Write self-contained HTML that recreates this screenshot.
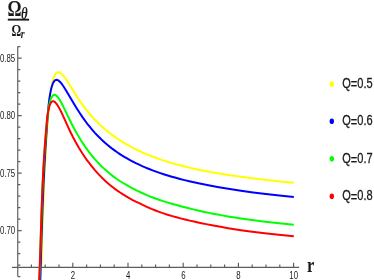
<!DOCTYPE html>
<html><head><meta charset="utf-8"><title>plot</title>
<style>html,body{margin:0;padding:0;background:#fff;}body{width:374px;height:280px;overflow:hidden;font-family:"Liberation Sans",sans-serif;}</style>
</head><body>
<svg width="374" height="280" viewBox="0 0 374 280" style="display:block;will-change:transform">
<rect width="374" height="280" fill="#ffffff"/>
<g fill="none" stroke-width="2" stroke-linejoin="round" stroke-linecap="butt">
<path d="M41.32 268.00 L43.37 205.00 L44.00 188.00 L44.67 172.50 L45.45 157.00 L46.29 142.50 L47.07 131.00 L48.65 109.50 L49.00 105.50 L49.40 101.50 L49.86 97.56 L50.33 93.91 L50.82 90.56 L51.32 87.54 L51.84 84.80 L52.38 82.33 L52.93 80.20 L53.50 78.32 L54.10 76.70 L54.72 75.33 L55.36 74.23 L56.03 73.37 L56.37 73.03 L56.73 72.75 L57.09 72.53 L57.47 72.38 L58.12 72.25 L58.80 72.29 L59.52 72.51 L60.27 72.90 L61.07 73.46 L61.90 74.21 L62.58 74.91 L63.74 76.26 L65.49 78.59 L67.81 82.05 L75.36 94.12 L78.85 99.52 L80.59 102.10 L83.50 106.13 L85.24 108.44 L86.98 110.66 L89.30 113.49 L91.05 115.52 L92.79 117.47 L94.53 119.33 L96.28 121.12 L98.60 123.42 L100.92 125.61 L102.67 127.19 L104.99 129.21 L107.31 131.13 L109.64 132.97 L112.54 135.17 L114.87 136.86 L117.19 138.47 L119.51 140.02 L122.42 141.87 L124.74 143.28 L127.65 144.97 L130.55 146.59 L133.46 148.14 L136.36 149.62 L139.27 151.02 L142.17 152.35 L145.66 153.86 L149.14 155.29 L152.63 156.65 L156.11 157.94 L159.60 159.16 L163.09 160.33 L167.15 161.63 L170.64 162.68 L174.70 163.86 L178.77 164.97 L182.84 166.03 L186.90 167.04 L191.55 168.13 L196.20 169.17 L200.85 170.15 L204.91 170.97 L210.14 171.96 L220.60 173.78 L231.64 175.52 L242.68 177.09 L254.30 178.60 L267.08 180.11 L279.86 181.47 L293.80 182.82" stroke="#ffff00"/>
<path d="M40.30 281.00 L41.19 249.00 L41.90 226.00 L42.65 205.00 L43.44 186.00 L44.29 168.50 L45.26 151.50 L46.13 138.00 L47.89 113.00 L48.51 106.00 L48.85 103.00 L49.30 99.45 L49.75 96.39 L50.20 93.63 L50.68 91.13 L51.17 88.89 L51.67 86.96 L52.19 85.28 L52.73 83.84 L53.28 82.62 L53.87 81.62 L54.48 80.85 L55.11 80.31 L55.44 80.11 L55.78 79.97 L56.41 79.86 L57.08 79.92 L57.79 80.16 L58.53 80.59 L59.31 81.20 L60.13 82.00 L61.02 83.00 L61.96 84.20 L63.74 86.74 L66.07 90.43 L73.04 102.24 L76.52 107.99 L79.43 112.55 L82.33 116.88 L84.08 119.36 L85.82 121.75 L87.56 124.05 L89.89 126.98 L91.63 129.09 L93.37 131.11 L95.11 133.06 L97.44 135.54 L99.18 137.31 L101.50 139.58 L103.25 141.20 L105.57 143.28 L107.90 145.25 L110.22 147.14 L112.54 148.93 L114.87 150.64 L117.19 152.27 L119.51 153.83 L121.84 155.33 L124.74 157.10 L127.07 158.46 L129.97 160.07 L132.88 161.61 L135.78 163.07 L138.69 164.46 L142.17 166.05 L145.66 167.55 L149.14 168.97 L152.63 170.32 L156.11 171.61 L159.60 172.83 L163.67 174.18 L167.73 175.46 L171.80 176.68 L175.87 177.83 L179.93 178.93 L184.58 180.12 L189.23 181.25 L193.88 182.32 L198.52 183.34 L208.40 185.34 L218.86 187.26 L229.90 189.09 L240.93 190.75 L253.13 192.41 L265.91 193.99 L279.28 195.48 L293.80 196.95" stroke="#0000ff"/>
<path d="M39.33 281.00 L40.15 258.50 L41.67 209.50 L42.40 190.00 L42.97 177.50 L43.61 165.50 L44.31 154.50 L45.08 144.00 L46.86 123.00 L47.32 118.00 L47.97 112.50 L48.35 109.91 L48.80 107.27 L49.35 104.48 L49.92 102.04 L50.53 99.97 L51.16 98.25 L51.82 96.89 L52.16 96.34 L52.50 95.87 L52.86 95.50 L53.22 95.20 L53.60 94.98 L53.99 94.86 L54.57 94.82 L55.17 94.96 L55.80 95.28 L56.46 95.77 L57.16 96.45 L57.88 97.30 L58.65 98.35 L59.48 99.60 L61.16 102.50 L63.16 106.33 L71.88 124.23 L74.78 129.71 L77.69 134.88 L79.43 137.83 L81.17 140.66 L82.91 143.36 L84.66 145.95 L86.40 148.44 L88.72 151.62 L90.47 153.89 L92.79 156.76 L94.53 158.81 L96.86 161.42 L98.60 163.28 L100.92 165.66 L102.67 167.37 L104.99 169.53 L107.31 171.57 L109.64 173.51 L111.96 175.35 L114.29 177.10 L116.61 178.76 L119.51 180.73 L121.84 182.22 L124.74 183.99 L127.65 185.67 L130.55 187.28 L134.04 189.11 L137.52 190.85 L142.17 193.03 L146.24 194.86 L149.14 196.09 L152.05 197.23 L155.53 198.52 L159.02 199.75 L163.09 201.10 L167.15 202.39 L171.80 203.77 L176.45 205.08 L181.68 206.47 L186.90 207.79 L193.30 209.35 L199.10 210.72 L204.33 211.90 L208.98 212.89 L213.05 213.71 L217.70 214.59 L223.50 215.64 L229.31 216.64 L235.12 217.58 L240.93 218.47 L251.97 220.02 L265.33 221.69 L279.28 223.28 L293.80 224.78" stroke="#00ff00"/>
<path d="M39.16 281.00 L39.93 261.00 L41.54 211.50 L42.39 189.00 L42.97 176.50 L43.57 165.00 L44.25 154.00 L44.99 143.50 L46.26 127.50 L46.75 122.00 L47.07 119.01 L47.39 116.54 L47.77 114.00 L48.16 111.69 L48.64 109.29 L49.15 107.21 L49.67 105.45 L50.22 104.00 L50.78 102.90 L51.08 102.46 L51.38 102.08 L51.70 101.78 L52.03 101.55 L52.37 101.39 L52.72 101.29 L53.33 101.28 L53.94 101.45 L54.59 101.82 L55.27 102.38 L55.96 103.12 L56.69 104.04 L57.49 105.22 L58.36 106.62 L59.88 109.35 L61.55 112.63 L63.16 116.06 L68.39 127.56 L70.71 132.52 L73.04 137.18 L75.36 141.54 L78.85 147.67 L80.59 150.56 L82.33 153.32 L84.08 155.96 L86.40 159.32 L88.14 161.69 L89.89 163.95 L92.21 166.83 L95.11 170.30 L96.86 172.30 L99.18 174.84 L100.92 176.66 L103.25 178.97 L105.57 181.15 L107.90 183.23 L110.22 185.19 L112.54 187.06 L114.87 188.84 L117.77 190.94 L120.10 192.53 L123.00 194.41 L125.90 196.19 L128.81 197.87 L132.30 199.77 L135.78 201.56 L138.69 202.97 L146.24 206.53 L149.14 207.85 L151.47 208.86 L154.95 210.27 L158.44 211.62 L161.34 212.67 L164.25 213.65 L168.31 214.93 L172.38 216.14 L176.45 217.27 L180.51 218.35 L185.16 219.53 L189.81 220.64 L195.04 221.83 L200.27 222.95 L206.08 224.13 L211.89 225.25 L220.60 226.83 L228.15 228.16 L234.54 229.22 L240.93 230.22 L250.23 231.51 L264.75 233.28 L278.70 234.80 L293.80 236.28" stroke="#ff0000"/>
</g>
<path d="M17.75 46.4 V276.6 M12 267.3 H299.2 M17.75 276.60 h2.6 M17.75 265.10 h2.6 M17.75 253.60 h2.6 M17.75 242.10 h2.6 M17.75 230.60 h3.9 M17.75 219.10 h2.6 M17.75 207.60 h2.6 M17.75 196.10 h2.6 M17.75 184.60 h2.6 M17.75 173.10 h3.9 M17.75 161.60 h2.6 M17.75 150.10 h2.6 M17.75 138.60 h2.6 M17.75 127.10 h2.6 M17.75 115.60 h3.9 M17.75 104.10 h2.6 M17.75 92.60 h2.6 M17.75 81.10 h2.6 M17.75 69.60 h2.6 M17.75 58.10 h3.9 M17.75 46.60 h2.6 M31.40 267.3 v-2.8 M45.20 267.3 v-2.8 M59.00 267.3 v-2.8 M72.80 267.3 v-4.5 M86.60 267.3 v-2.8 M100.40 267.3 v-2.8 M114.20 267.3 v-2.8 M128.00 267.3 v-4.5 M141.80 267.3 v-2.8 M155.60 267.3 v-2.8 M169.40 267.3 v-2.8 M183.20 267.3 v-4.5 M197.00 267.3 v-2.8 M210.80 267.3 v-2.8 M224.60 267.3 v-2.8 M238.40 267.3 v-4.5 M252.20 267.3 v-2.8 M266.00 267.3 v-2.8 M279.80 267.3 v-2.8 M293.60 267.3 v-4.5" fill="none" stroke="#5c5c5c" stroke-width="1.15"/>
<text transform="translate(15.20 234.20) scale(0.76 1)" font-family="'Liberation Sans', sans-serif" font-size="10.3" font-weight="normal" font-style="normal" text-anchor="end" fill="#1a1a1a">0.70</text>
<text transform="translate(15.20 176.70) scale(0.76 1)" font-family="'Liberation Sans', sans-serif" font-size="10.3" font-weight="normal" font-style="normal" text-anchor="end" fill="#1a1a1a">0.75</text>
<text transform="translate(15.20 119.20) scale(0.76 1)" font-family="'Liberation Sans', sans-serif" font-size="10.3" font-weight="normal" font-style="normal" text-anchor="end" fill="#1a1a1a">0.80</text>
<text transform="translate(15.20 61.70) scale(0.76 1)" font-family="'Liberation Sans', sans-serif" font-size="10.3" font-weight="normal" font-style="normal" text-anchor="end" fill="#1a1a1a">0.85</text>
<text transform="translate(72.90 278.60) scale(0.76 1)" font-family="'Liberation Sans', sans-serif" font-size="10.3" font-weight="normal" font-style="normal" text-anchor="middle" fill="#1a1a1a">2</text>
<text transform="translate(128.10 278.60) scale(0.76 1)" font-family="'Liberation Sans', sans-serif" font-size="10.3" font-weight="normal" font-style="normal" text-anchor="middle" fill="#1a1a1a">4</text>
<text transform="translate(183.30 278.60) scale(0.76 1)" font-family="'Liberation Sans', sans-serif" font-size="10.3" font-weight="normal" font-style="normal" text-anchor="middle" fill="#1a1a1a">6</text>
<text transform="translate(238.50 278.60) scale(0.76 1)" font-family="'Liberation Sans', sans-serif" font-size="10.3" font-weight="normal" font-style="normal" text-anchor="middle" fill="#1a1a1a">8</text>
<text transform="translate(293.70 278.60) scale(0.76 1)" font-family="'Liberation Sans', sans-serif" font-size="10.3" font-weight="normal" font-style="normal" text-anchor="middle" fill="#1a1a1a">10</text>
<text transform="translate(307.10 271.60) scale(0.76 1)" font-family="'Liberation Serif', sans-serif" font-size="21.8" font-weight="bold" font-style="normal" text-anchor="start" fill="#1a1a1a">r</text>
<text transform="translate(7.60 15.50) scale(0.78 1)" font-family="'Liberation Serif', sans-serif" font-size="22.5" font-weight="bold" font-style="normal" text-anchor="start" fill="#1a1a1a">&#937;</text>
<text transform="translate(20.90 18.70) scale(0.78 1)" font-family="'Liberation Serif', sans-serif" font-size="16.5" font-weight="bold" font-style="italic" text-anchor="start" fill="#1a1a1a">&#952;</text>
<rect x="7.8" y="18.7" width="21.3" height="1.9" fill="#1a1a1a"/>
<text transform="translate(11.50 35.60) scale(0.74 1)" font-family="'Liberation Serif', sans-serif" font-size="16.3" font-weight="bold" font-style="normal" text-anchor="start" fill="#1a1a1a">&#937;</text>
<text transform="translate(20.70 37.80) scale(0.78 1)" font-family="'Liberation Serif', sans-serif" font-size="12.5" font-weight="bold" font-style="italic" text-anchor="start" fill="#1a1a1a">r</text>
<ellipse cx="331.8" cy="84.1" rx="2.2" ry="2.8" fill="#ffff00"/>
<text transform="translate(342.30 87.60) scale(0.755 1)" font-family="'Liberation Sans', sans-serif" font-size="14.6" font-weight="normal" font-style="normal" text-anchor="start" fill="#1a1a1a" stroke="#1a1a1a" stroke-width="0.3">Q<tspan dy="1.8">=</tspan><tspan dy="-1.8">0.5</tspan></text>
<ellipse cx="331.8" cy="121.3" rx="2.2" ry="2.8" fill="#0000ff"/>
<text transform="translate(342.30 124.90) scale(0.755 1)" font-family="'Liberation Sans', sans-serif" font-size="14.6" font-weight="normal" font-style="normal" text-anchor="start" fill="#1a1a1a" stroke="#1a1a1a" stroke-width="0.3">Q<tspan dy="1.8">=</tspan><tspan dy="-1.8">0.6</tspan></text>
<ellipse cx="331.8" cy="158.8" rx="2.2" ry="2.8" fill="#00ff00"/>
<text transform="translate(342.30 162.70) scale(0.755 1)" font-family="'Liberation Sans', sans-serif" font-size="14.6" font-weight="normal" font-style="normal" text-anchor="start" fill="#1a1a1a" stroke="#1a1a1a" stroke-width="0.3">Q<tspan dy="1.8">=</tspan><tspan dy="-1.8">0.7</tspan></text>
<ellipse cx="331.8" cy="196.2" rx="2.2" ry="2.8" fill="#ff0000"/>
<text transform="translate(342.30 199.80) scale(0.755 1)" font-family="'Liberation Sans', sans-serif" font-size="14.6" font-weight="normal" font-style="normal" text-anchor="start" fill="#1a1a1a" stroke="#1a1a1a" stroke-width="0.3">Q<tspan dy="1.8">=</tspan><tspan dy="-1.8">0.8</tspan></text>
</svg>
</body></html>
